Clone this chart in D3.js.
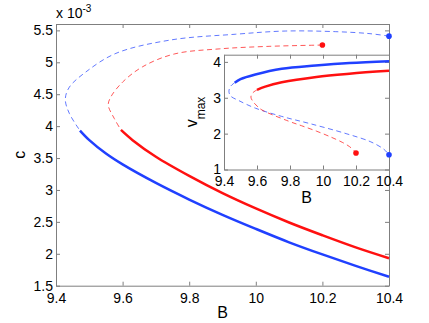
<!DOCTYPE html>
<html>
<head>
<meta charset="utf-8">
<script src="https://cdn.jsdelivr.net/npm/d3@7"></script>
<style>
body { margin: 0; background: #fff; }
svg { display: block; font-family: "Liberation Sans", Arial, sans-serif; }
</style>
</head>
<body>
<div id="chart"></div>
<script>
// tick values
var bTicks = [9.4, 9.6, 9.8, 10, 10.2, 10.4];
var cTicks = [1.5, 2, 2.5, 3, 3.5, 4, 4.5, 5, 5.5];
var vTicks = [1, 2, 3, 4];

// main plot, c (x 10^-3) against B
var blueUnstableB = [10.4, 10.34, 10.24, 10.09, 9.94, 9.745, 9.58, 9.49, 9.44, 9.428, 9.44, 9.472];
var blueUnstableC = [5.41, 5.45, 5.48, 5.49, 5.44, 5.35, 5.14, 4.85, 4.61, 4.42, 4.20, 3.93];
var blueStableB = [9.472, 9.5, 9.55, 9.6, 9.7, 9.8, 9.9, 10, 10.1, 10.2, 10.3, 10.4];
var blueStableC = [3.93, 3.78, 3.57, 3.40, 3.11, 2.85, 2.61, 2.39, 2.18, 1.99, 1.81, 1.64];
var redUnstableB = [10.2, 10.04, 9.89, 9.755, 9.66, 9.6, 9.565, 9.557, 9.575, 9.595];
var redUnstableC = [5.27, 5.25, 5.21, 5.13, 4.93, 4.69, 4.46, 4.33, 4.12, 3.94];
var redStableB = [9.595, 9.63, 9.7, 9.8, 9.9, 10, 10.1, 10.2, 10.3, 10.4];
var redStableC = [3.94, 3.78, 3.52, 3.22, 2.95, 2.71, 2.49, 2.29, 2.10, 1.93];

// inset, v_max against B
var blueStableIB = [9.465, 9.5, 9.59, 9.75, 9.955, 10.16, 10.4];
var blueStableIV = [3.42, 3.52, 3.65, 3.81, 3.90, 3.97, 4.02];
var blueUnstableIB = [9.465, 9.44, 9.43, 9.44, 9.49, 9.59, 9.75, 9.92, 10.14, 10.29, 10.37, 10.4];
var blueUnstableIV = [3.42, 3.32, 3.18, 3.05, 2.92, 2.71, 2.48, 2.28, 2.0, 1.77, 1.56, 1.41];
var redStableIB = [9.6, 9.65, 9.75, 9.96, 10.16, 10.4];
var redStableIV = [3.22, 3.31, 3.43, 3.58, 3.67, 3.75];
var redUnstableIB = [9.6, 9.575, 9.563, 9.575, 9.6, 9.63, 9.79, 9.87, 9.96, 10.05, 10.12, 10.16, 10.19, 10.2];
var redUnstableIV = [3.22, 3.14, 3.02, 2.9, 2.77, 2.66, 2.35, 2.22, 2.07, 1.90, 1.75, 1.64, 1.52, 1.46];

var W = 429, H = 323;
var blue = "#2040ff", red = "#ff1010", axisGray = "#7f7f7f";

var svg = d3.select("#chart").append("svg").attr("width", W).attr("height", H);

var main = {left: 56, right: 389, top: 24, bottom: 285.7};
var inset = {left: 224, right: 389, top: 54.7, bottom: 169.5};

var xMain = d3.scaleLinear().domain([9.4, 10.4]).range([main.left, main.right]);
var yMain = d3.scaleLinear().domain([1.5, 5.6]).range([main.bottom, main.top]);
var xIn = d3.scaleLinear().domain([9.4, 10.4]).range([inset.left, inset.right]);
var yIn = d3.scaleLinear().domain([1, 4.2]).range([inset.bottom, inset.top]);

function fmt(d) { return String(+d.toFixed(1)); }

function drawAxes(g, box, xs, ys, yt) {
	g.append("rect").attr("x", box.left).attr("y", box.top)
		.attr("width", box.right - box.left).attr("height", box.bottom - box.top)
		.attr("fill", "#fff");
	var ax = [
		[d3.axisBottom(xs).tickValues(bTicks).tickFormat(fmt), "translate(0," + box.bottom + ")"],
		[d3.axisTop(xs).tickValues(bTicks).tickFormat(""), "translate(0," + box.top + ")"],
		[d3.axisLeft(ys).tickValues(yt).tickFormat(fmt), "translate(" + box.left + ",0)"],
		[d3.axisRight(ys).tickValues(yt).tickFormat(""), "translate(" + box.right + ",0)"]
	];
	ax.forEach(function(a, i) {
		var axis = a[0].tickSizeInner(-4).tickSizeOuter(0).tickPadding(i == 0 ? 7 : 3);
		var ag = g.append("g").attr("transform", a[1]).call(axis);
		ag.select(".domain").attr("stroke", axisGray);
		ag.selectAll(".tick line").attr("stroke", axisGray);
		ag.selectAll("text").attr("font-size", "14px").attr("fill", "#000")
			.attr("font-family", "Liberation Sans, Arial, sans-serif");
	});
}

function drawCurve(g, xs, ys, bs, vs, color, dashed) {
	var pts = bs.map(function(b, i) { return [xs(b), ys(vs[i])]; });
	var line = d3.line().curve(d3.curveCatmullRom.alpha(0.5));
	var p = g.append("path").attr("d", line(pts)).attr("fill", "none")
		.attr("stroke", color);
	if (dashed) {
		p.attr("stroke-width", 1).attr("stroke-dasharray", "5,3.5").attr("stroke-opacity", 0.7);
	} else {
		p.attr("stroke-width", 2.5);
	}
}

function drawDot(g, x, y, color) {
	g.append("circle").attr("cx", x).attr("cy", y).attr("r", 2.8).attr("fill", color);
}

// main axes
var gMain = svg.append("g");
drawAxes(gMain, main, xMain, yMain, cTicks);

drawCurve(gMain, xMain, yMain, blueUnstableB, blueUnstableC, blue, true);
drawCurve(gMain, xMain, yMain, blueStableB, blueStableC, blue, false);
drawCurve(gMain, xMain, yMain, redUnstableB, redUnstableC, red, true);
drawCurve(gMain, xMain, yMain, redStableB, redStableC, red, false);
drawDot(gMain, xMain(blueUnstableB[0]), yMain(blueUnstableC[0]), blue);
drawDot(gMain, xMain(redUnstableB[0]), yMain(redUnstableC[0]), red);

// main labels
svg.append("text").attr("x", (main.left + main.right) / 2).attr("y", 318)
	.attr("text-anchor", "middle").attr("font-size", "16px").text("B");
svg.append("text").attr("transform", "translate(25," + ((main.top + main.bottom) / 2) + ") rotate(-90)")
	.attr("text-anchor", "middle").attr("font-size", "16px").text("c");
var exp = svg.append("text").attr("x", 56).attr("y", 18).attr("font-size", "14px");
exp.append("tspan").text("x 10");
exp.append("tspan").attr("dy", -6).attr("font-size", "10px").text("-3");

// inset
var gIn = svg.append("g");
drawAxes(gIn, inset, xIn, yIn, vTicks);
drawCurve(gIn, xIn, yIn, blueStableIB, blueStableIV, blue, false);
drawCurve(gIn, xIn, yIn, blueUnstableIB, blueUnstableIV, blue, true);
drawCurve(gIn, xIn, yIn, redStableIB, redStableIV, red, false);
drawCurve(gIn, xIn, yIn, redUnstableIB, redUnstableIV, red, true);
drawDot(gIn, xIn(blueUnstableIB[blueUnstableIB.length - 1]), yIn(blueUnstableIV[blueUnstableIV.length - 1]), blue);
drawDot(gIn, xIn(redUnstableIB[redUnstableIB.length - 1]), yIn(redUnstableIV[redUnstableIV.length - 1]), red);

svg.append("text").attr("x", (inset.left + inset.right) / 2).attr("y", 203)
	.attr("text-anchor", "middle").attr("font-size", "16px").text("B");
var vl = svg.append("text").attr("transform", "translate(197,112) rotate(-90)")
	.attr("text-anchor", "middle").attr("font-size", "16px");
vl.append("tspan").text("v");
vl.append("tspan").attr("dy", 8).attr("font-size", "12px").text("max");
</script>
</body>
</html>
